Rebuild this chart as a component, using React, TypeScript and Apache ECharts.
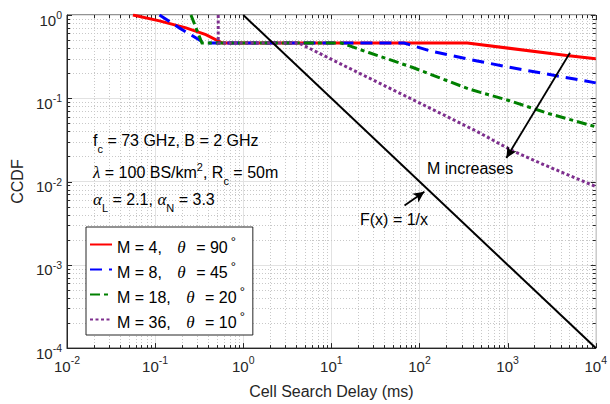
import React, { useEffect, useRef } from "react";
import * as echarts from "echarts";

const FONT = "'Liberation Sans', Arial, Helvetica, sans-serif";
const SERIF = "'Liberation Serif', 'Times New Roman', serif";

// axis decades (exponents of 10) and minor multipliers
const xDecadeExps = [-2, -1, 0, 1, 2, 3, 4];
const yDecadeExps = [-4, -3, -2, -1, 0];
const minorMultipliers = [2, 3, 4, 5, 6, 7, 8, 9];

// legend
const seriesNames = ["M = 4", "M = 8", "M = 18", "M = 36"];
const thetaLabels = ["90", "45", "20", "10"];
const seriesColors = ["#ff0000", "#0000ff", "#008000", "#7e2f8e"];

// data: [cell search delay (ms), CCDF]
const m4Data = [[0.056, 1], [0.112, 0.85], [0.224, 0.7], [0.376, 0.58], [0.58, 0.46], [349, 0.46], [4690, 0.327], [10000, 0.299]];
const m8Data = [[0.112, 1], [0.188, 0.7], [0.365, 0.46], [67, 0.46], [135, 0.368], [453, 0.28], [1393, 0.223], [3936, 0.183], [10000, 0.153]];
const m18Data = [[0.255, 1], [0.34, 0.46], [13, 0.46], [27, 0.352], [84, 0.234], [365, 0.129], [1030, 0.094], [2910, 0.0656], [10000, 0.0455]];
const m36Data = [[0.52, 1], [0.52, 0.46], [4.3, 0.46], [6, 0.385], [14.2, 0.244], [33.8, 0.155], [80, 0.0987], [191, 0.0626], [453, 0.0398], [1076, 0.0241], [2560, 0.016], [10000, 0.0087]];
const refLineData = [[1, 1], [10000, 0.0001]];

// annotation arrows [start, end] in data coordinates
const arrowMIncreases = [[5100, 0.352], [968, 0.0192]];
const arrowRefLine = [[67.6, 0.00515], [113.5, 0.00755]];

const xMin = Math.pow(10, xDecadeExps[0]);
const xMax = Math.pow(10, xDecadeExps[xDecadeExps.length - 1]);
const yMin = Math.pow(10, yDecadeExps[0]);
const yMax = Math.pow(10, yDecadeExps[yDecadeExps.length - 1]);

function tickValues(exps: number[]) {
  const out: number[][] = [];
  exps.forEach((e, i) => {
    out.push([Math.pow(10, e), 1]);
    if (i < exps.length - 1) {
      minorMultipliers.forEach((m) => out.push([parseFloat((m * Math.pow(10, e)).toPrecision(6)), 0]));
    }
  });
  return out;
}

const xTicks = tickValues(xDecadeExps).map((t) => [t[0], 1, t[1]]);
const yTicks = tickValues(yDecadeExps).map((t) => [1, t[0], t[1]]);

const TICK_COLOR = "#262626";
const MINOR_GRID = "#c8c8c8";

const dashes: (number[] | string)[] = ["solid", [12, 7], [10, 4, 4, 4], [3, 2.5]];
const datasets = [m4Data, m8Data, m18Data, m36Data];

const annRich = {
  sub: { fontFamily: FONT, fontSize: 11, lineHeight: 11, padding: [17, 0, 0, 0], fill: "#000" },
  sup: { fontFamily: FONT, fontSize: 11, lineHeight: 11, padding: [0, 0, 10, 0], fill: "#000" },
  gr: { fontFamily: SERIF, fontStyle: "italic", fontSize: 17, lineHeight: 20, fill: "#000" },
};

function annText(x: number, y: number, text: string) {
  return {
    type: "text",
    x,
    y,
    silent: true,
    z: 50,
    style: {
      text,
      fill: "#000",
      fontFamily: FONT,
      fontSize: 16,
      lineHeight: 20,
      align: "left",
      verticalAlign: "middle",
      textAlign: "left",
      textVerticalAlign: "middle",
      rich: annRich,
    },
  };
}

function makeOption() {
  const lineSeries = datasets.map((d, i) => ({
    name: seriesNames[i],
    type: "line",
    data: d,
    symbol: "none",
    showSymbol: false,
    color: seriesColors[i],
    z: 3,
    silent: true,
    emphasis: { disabled: true },
    lineStyle: { color: seriesColors[i], width: 3, type: dashes[i], cap: "butt", join: "miter" },
  }));

  return {
    animation: false,
    backgroundColor: "#fff",
    textStyle: { fontFamily: FONT },
    grid: {
      left: 67,
      right: 11,
      top: 15,
      bottom: 51,
      show: true,
      borderColor: TICK_COLOR,
      borderWidth: 1,
      backgroundColor: "#fff",
    },
    xAxis: {
      type: "log",
      logBase: 10,
      min: xMin,
      max: xMax,
      name: "Cell Search Delay (ms)",
      nameLocation: "middle",
      nameGap: 26,
      nameTextStyle: { fontFamily: FONT, fontSize: 16, color: TICK_COLOR },
      axisLine: { show: true, lineStyle: { color: TICK_COLOR } },
      axisTick: { show: false },
      splitLine: { show: true, lineStyle: { color: "#e2e2e2", width: 1 } },
      axisLabel: {
        margin: 10,
        color: TICK_COLOR,
        formatter: (v: number) => `{b|10}{s|${Math.round(Math.log10(v))}}`,
        rich: {
          b: { fontFamily: FONT, fontSize: 15, lineHeight: 16, color: TICK_COLOR },
          s: { fontFamily: FONT, fontSize: 10.5, lineHeight: 10, padding: [0, 0, 13, 0], color: TICK_COLOR },
        },
      },
    },
    yAxis: {
      type: "log",
      logBase: 10,
      min: yMin,
      max: yMax,
      name: "CCDF",
      nameLocation: "middle",
      nameGap: 40,
      nameTextStyle: { fontFamily: FONT, fontSize: 16, color: TICK_COLOR },
      axisLine: { show: true, lineStyle: { color: TICK_COLOR } },
      axisTick: { show: false },
      splitLine: { show: true, lineStyle: { color: "#e2e2e2", width: 1 } },
      axisLabel: {
        margin: 5,
        color: TICK_COLOR,
        formatter: (v: number) => `{b|10}{s|${Math.round(Math.log10(v))}}`,
        rich: {
          b: { fontFamily: FONT, fontSize: 15, lineHeight: 16, padding: [10, 0, 0, 0], color: TICK_COLOR },
          s: { fontFamily: FONT, fontSize: 10.5, lineHeight: 10, color: TICK_COLOR },
        },
      },
    },
    legend: {
      data: seriesNames,
      orient: "vertical",
      left: 86,
      top: 227,
      backgroundColor: "#fff",
      borderColor: TICK_COLOR,
      borderWidth: 1,
      borderRadius: 0,
      padding: [6, 8, 4, 3],
      itemGap: 2,
      itemWidth: 22,
      itemHeight: 4,
      selectedMode: false,
      itemStyle: { opacity: 0 },
      textStyle: {
        fontFamily: FONT,
        fontSize: 16,
        lineHeight: 20,
        color: "#000",
        rich: {
          m: { fontFamily: FONT, fontSize: 16, lineHeight: 20, padding: [6, 0, 0, 0], color: "#000" },
          th: { fontFamily: SERIF, fontStyle: "italic", fontSize: 17, lineHeight: 20, padding: [6, 6, 0, 11], color: "#000" },
          deg: { fontFamily: FONT, fontSize: 13, lineHeight: 13, padding: [0, 0, 6, 3], color: "#000" },
        },
      },
      formatter: (name: string) => {
        const i = seriesNames.indexOf(name);
        return `{m|${name}, }{th|θ}{m| = ${thetaLabels[i]}}{deg|°}`;
      },
    },
    graphic: [
      annText(93, 140, "f{sub|c} = 73 GHz, B = 2 GHz"),
      annText(93, 172, "{gr|λ} = 100 BS/km{sup|2}, R{sub|c} = 50m"),
      annText(93, 199, "{gr|α}{sub|L} = 2.1, {gr|α}{sub|N} = 3.3"),
      annText(427, 168, "M increases"),
      annText(360, 219, "F(x) = 1/x"),
    ],
    series: [
      {
        type: "custom",
        name: "xgrid",
        data: xTicks,
        z: 1,
        silent: true,
        clip: false,
        renderItem: (params: any, api: any) => {
          const cs = params.coordSys;
          const major = api.value(2) === 1;
          const px = Math.round(api.coord([api.value(0), 1])[0]) + 0.5;
          const top = cs.y;
          const bottom = cs.y + cs.height;
          const len = major ? 5 : 3;
          const children: any[] = [];
          if (!major) {
            children.push({ type: "line", shape: { x1: px, y1: top, x2: px, y2: bottom }, style: { stroke: MINOR_GRID, lineWidth: 1, lineDash: [1, 2] } });
          }
          children.push({ type: "line", shape: { x1: px, y1: bottom, x2: px, y2: bottom - len }, style: { stroke: TICK_COLOR, lineWidth: 1 } });
          children.push({ type: "line", shape: { x1: px, y1: top, x2: px, y2: top + len }, style: { stroke: TICK_COLOR, lineWidth: 1 } });
          return { type: "group", children };
        },
      },
      {
        type: "custom",
        name: "ygrid",
        data: yTicks,
        z: 1,
        silent: true,
        clip: false,
        renderItem: (params: any, api: any) => {
          const cs = params.coordSys;
          const major = api.value(2) === 1;
          const py = Math.round(api.coord([1, api.value(1)])[1]) + 0.5;
          const left = cs.x;
          const right = cs.x + cs.width;
          const len = major ? 5 : 3;
          const children: any[] = [];
          if (!major) {
            children.push({ type: "line", shape: { x1: left, y1: py, x2: right, y2: py }, style: { stroke: MINOR_GRID, lineWidth: 1, lineDash: [1, 2] } });
          }
          children.push({ type: "line", shape: { x1: left, y1: py, x2: left + len, y2: py }, style: { stroke: TICK_COLOR, lineWidth: 1 } });
          children.push({ type: "line", shape: { x1: right, y1: py, x2: right - len, y2: py }, style: { stroke: TICK_COLOR, lineWidth: 1 } });
          return { type: "group", children };
        },
      },
      ...lineSeries,
      {
        name: "F(x) = 1/x",
        type: "line",
        data: refLineData,
        symbol: "none",
        showSymbol: false,
        color: "#000",
        z: 4,
        silent: true,
        emphasis: { disabled: true },
        lineStyle: { color: "#000", width: 2 },
        markLine: {
          silent: true,
          symbol: ["none", "arrow"],
          symbolSize: [8, 11],
          label: { show: false },
          emphasis: { disabled: true },
          lineStyle: { color: "#000", width: 1.8, type: "solid" },
          data: [
            [{ coord: arrowMIncreases[0] }, { coord: arrowMIncreases[1] }],
            [{ coord: arrowRefLine[0] }, { coord: arrowRefLine[1] }],
          ],
        },
      },
    ],
  };
}

export default function App() {
  const ref = useRef<HTMLDivElement>(null);
  useEffect(() => {
    if (!ref.current) return;
    const chart = echarts.init(ref.current, null, { renderer: "svg" });
    chart.setOption(makeOption() as any);
    return () => chart.dispose();
  }, []);
  return <div ref={ref} style={{ position: "fixed", left: 0, top: 0, width: 610, height: 404 }} />;
}
